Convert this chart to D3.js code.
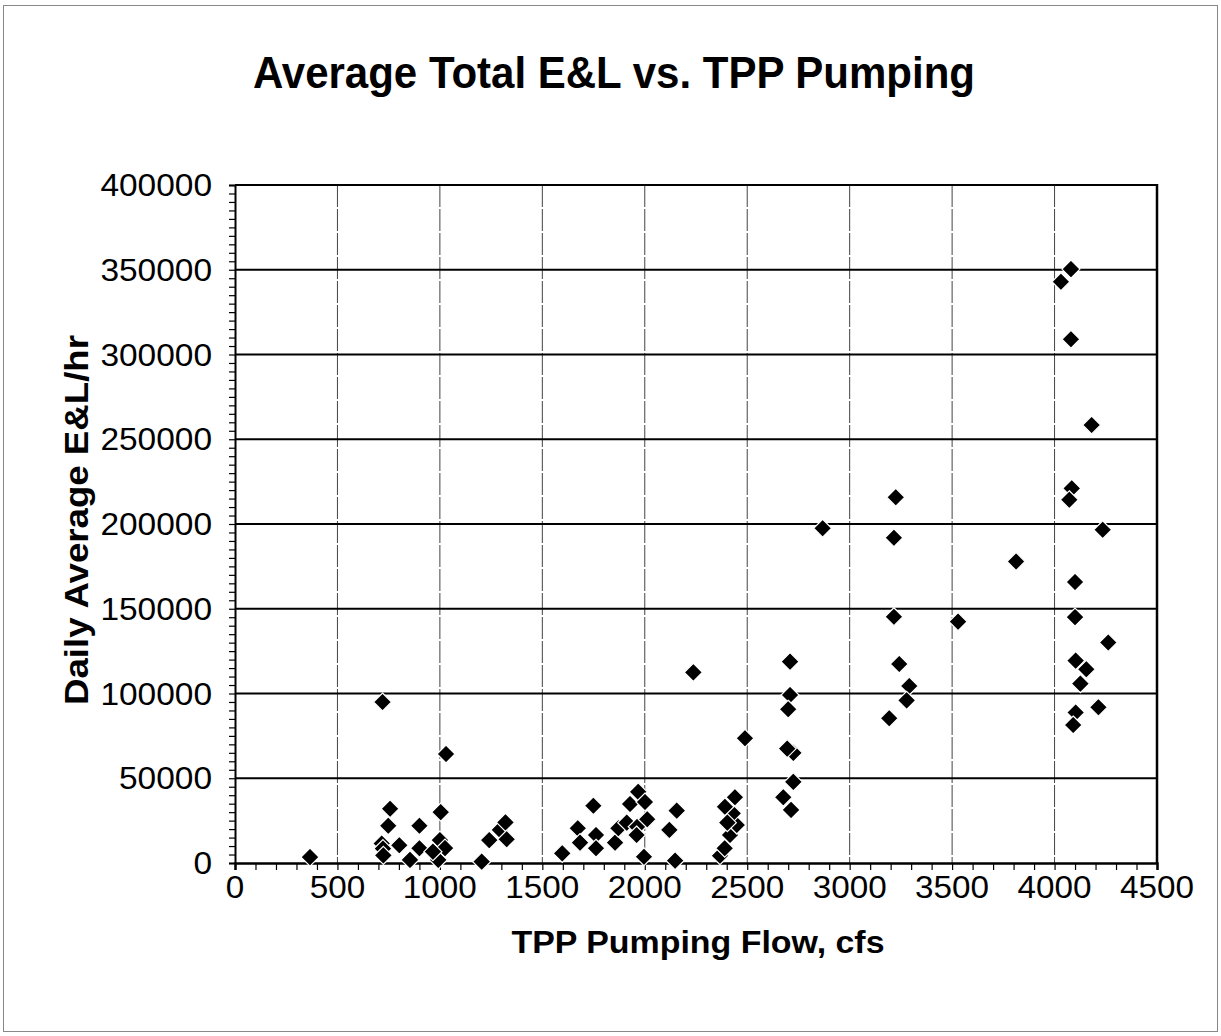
<!DOCTYPE html>
<html><head><meta charset="utf-8">
<script src="https://cdn.jsdelivr.net/npm/d3@7"></script>
<style>html,body{margin:0;padding:0;background:#fff}svg{display:block}</style>
</head><body>
<script>
const title = "Average Total E&L vs. TPP Pumping";
const xTitle = "TPP Pumping Flow, cfs";
const yTitle = "Daily Average E&L/hr";
const xTicks = [0,500,1000,1500,2000,2500,3000,3500,4000,4500];
const yTicks = [0,50000,100000,150000,200000,250000,300000,350000,400000];
const flow = [366,720,757,748,716,722,724,802,900,900,854,1004,1030,1000,992,1025,966,
  1204,1241,1293,1320,1326,
  1597,1673,1684,1749,1762,1762,1855,1871,1912,1928,1968,2001,1963,2012,1996,1960,
  2120,2156,2148,2237,2367,2416,2449,2429,2440,2391,2403,2390,
  2489,2709,2709,2700,2725,2695,2725,2676,2714,2868,
  3225,3216,3216,3242,3291,3278,3193,3529,3812,
  4031,4080,4080,4181,4084,4072,4235,4100,4100,4262,4103,4155,4126,4214,4103,4091];
const el = [3500,95000,32000,22000,11500,8500,4500,10500,22000,8700,1800,30000,64300,13500,1800,8800,6700,
  800,13500,19500,24000,14000,
  5700,20500,12000,33800,16500,8700,12000,20500,23800,34800,42000,36000,21400,25800,3700,16500,
  19500,30900,1400,112500,4300,16500,22400,29300,38800,33200,23800,8700,
  73600,118800,99100,90700,65000,67500,47900,38800,31300,197500,
  215800,191900,145300,117400,104400,95900,85400,142400,177900,
  342900,350400,309000,258400,221000,214300,196600,165800,145100,130100,119400,114300,105800,91900,88800,81400];

const W = 1221, H = 1036;
const m = {l:235, r:1157, t:185, b:863};
const svg = d3.select("body").append("svg").attr("width",W).attr("height",H)
  .style("font-family","'Liberation Sans', Arial, sans-serif");

svg.append("rect").attr("x",3.5).attr("y",5.5).attr("width",1214).attr("height",1026)
  .attr("fill","none").attr("stroke","#888").attr("stroke-width",1);

const x = d3.scaleLinear().domain([0,4500]).range([m.l,m.r]);
const y = d3.scaleLinear().domain([0,400000]).range([m.b,m.t]);

// vertical grid
svg.append("g").selectAll("line").data(xTicks.slice(1,-1)).join("line")
  .attr("x1",d=>x(d)).attr("x2",d=>x(d)).attr("y1",m.t).attr("y2",m.b)
  .attr("stroke","#444").attr("stroke-width",1).attr("stroke-dasharray","22,2");
// horizontal grid
svg.append("g").selectAll("line").data(yTicks.slice(1)).join("line")
  .attr("x1",m.l).attr("x2",m.r).attr("y1",d=>y(d)).attr("y2",d=>y(d))
  .attr("stroke","#000").attr("stroke-width",2);
// right border
svg.append("line").attr("x1",m.r).attr("x2",m.r).attr("y1",m.t-1).attr("y2",m.b)
  .attr("stroke","#000").attr("stroke-width",2.5);

// x axis
const xAxis = d3.axisBottom(x).tickValues(d3.range(0,4501,100)).tickSize(7).tickFormat("");
const gx = svg.append("g").attr("transform",`translate(0,${m.b})`).call(xAxis);
gx.select(".domain").attr("stroke-width",2.5);
gx.selectAll(".tick line").attr("stroke-width",1.2);
svg.append("g").selectAll("text").data(xTicks).join("text")
  .attr("x",d=>x(d)).attr("y",898).attr("text-anchor","middle")
  .attr("font-size",31).attr("textLength",d=>String(d).length*18.5).attr("lengthAdjust","spacingAndGlyphs")
  .text(d=>d);

// y axis
const yAxis = d3.axisLeft(y).tickValues(d3.range(0,400001,5000)).tickSize(6).tickFormat("");
const gy = svg.append("g").attr("transform",`translate(${m.l},0)`).call(yAxis);
gy.select(".domain").attr("stroke-width",2);
gy.selectAll(".tick line").attr("stroke-width",1.2);
svg.append("g").selectAll("text").data(yTicks).join("text")
  .attr("x",212).attr("y",d=>y(d)+11).attr("text-anchor","end")
  .attr("font-size",31).attr("textLength",d=>String(d).length*18.6).attr("lengthAdjust","spacingAndGlyphs")
  .text(d=>d);

// points
const data = flow.map((f,i)=>({f, v: el[i]}));
const h = 9;
svg.append("g").selectAll("path").data(data).join("path")
  .attr("d",d=>{const cx=x(d.f), cy=y(d.v); return `M${cx},${cy-h}L${cx+h},${cy}L${cx},${cy+h}L${cx-h},${cy}Z`;})
  .attr("fill","#000").attr("stroke","#fff").attr("stroke-width",1.2);

// titles
svg.append("text").attr("x",614).attr("y",88).attr("text-anchor","middle")
  .attr("font-size",45).attr("font-weight","bold")
  .attr("textLength",722).attr("lengthAdjust","spacingAndGlyphs").text(title);
svg.append("text").attr("x",698).attr("y",953).attr("text-anchor","middle")
  .attr("font-size",32).attr("font-weight","bold")
  .attr("textLength",373).attr("lengthAdjust","spacingAndGlyphs").text(xTitle);
svg.append("text").attr("transform","translate(88,520) rotate(-90)").attr("text-anchor","middle")
  .attr("font-size",34).attr("font-weight","bold")
  .attr("textLength",370).attr("lengthAdjust","spacingAndGlyphs").text(yTitle);
</script>
</body></html>
